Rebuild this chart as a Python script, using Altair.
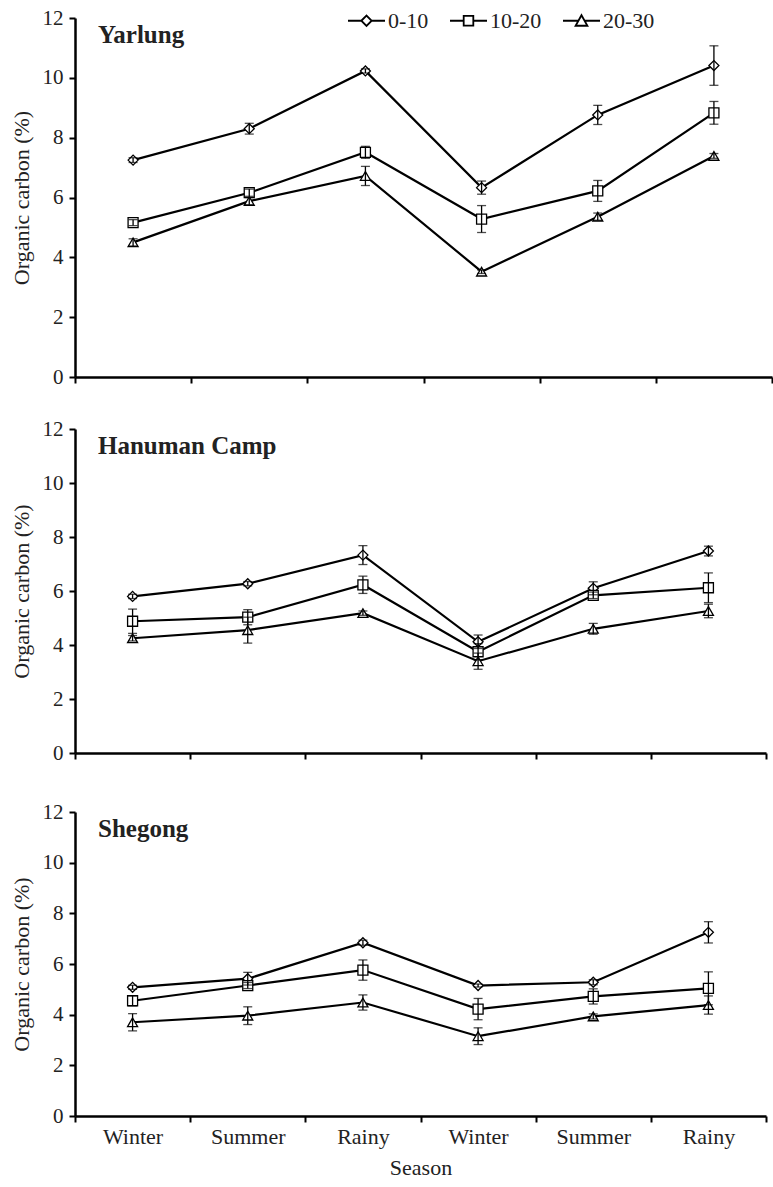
import altair as alt
import pandas as pd

seasons = ["Winter", "Summer", "Rainy", "Winter", "Summer", "Rainy"]
depths = ["0-10", "10-20", "20-30"]
sites = ["Yarlung", "Hanuman Camp", "Shegong"]

# mean organic carbon (%) per depth, six seasons
yarlung_0_10 = [7.25, 8.30, 10.23, 6.33, 8.76, 10.41]
yarlung_10_20 = [5.16, 6.16, 7.51, 5.28, 6.22, 8.83]
yarlung_20_30 = [4.50, 5.88, 6.72, 3.52, 5.36, 7.39]
yarlung_err_0_10 = [0.08, 0.18, 0.07, 0.22, 0.32, 0.66]
yarlung_err_10_20 = [0.10, 0.12, 0.20, 0.45, 0.35, 0.38]
yarlung_err_20_30 = [0.12, 0.12, 0.32, 0.06, 0.12, 0.08]

hanuman_0_10 = [5.80, 6.27, 7.33, 4.12, 6.10, 7.48]
hanuman_10_20 = [4.88, 5.03, 6.23, 3.75, 5.84, 6.12]
hanuman_20_30 = [4.25, 4.55, 5.18, 3.40, 4.60, 5.26]
hanuman_err_0_10 = [0.08, 0.08, 0.35, 0.25, 0.24, 0.18]
hanuman_err_10_20 = [0.45, 0.28, 0.32, 0.30, 0.12, 0.55]
hanuman_err_20_30 = [0.10, 0.48, 0.08, 0.30, 0.20, 0.25]

shegong_0_10 = [5.08, 5.42, 6.84, 5.15, 5.28, 7.25]
shegong_10_20 = [4.55, 5.15, 5.76, 4.22, 4.72, 5.04]
shegong_20_30 = [3.70, 3.96, 4.48, 3.15, 3.93, 4.38]
shegong_err_0_10 = [0.08, 0.25, 0.10, 0.06, 0.10, 0.42]
shegong_err_10_20 = [0.20, 0.12, 0.40, 0.42, 0.30, 0.65]
shegong_err_20_30 = [0.34, 0.35, 0.30, 0.33, 0.10, 0.36]

y_ticks = [0, 2, 4, 6, 8, 10, 12]

site_data = {
    "Yarlung": ([yarlung_0_10, yarlung_10_20, yarlung_20_30],
                [yarlung_err_0_10, yarlung_err_10_20, yarlung_err_20_30]),
    "Hanuman Camp": ([hanuman_0_10, hanuman_10_20, hanuman_20_30],
                     [hanuman_err_0_10, hanuman_err_10_20, hanuman_err_20_30]),
    "Shegong": ([shegong_0_10, shegong_10_20, shegong_20_30],
                [shegong_err_0_10, shegong_err_10_20, shegong_err_20_30]),
}

rows = []
for site in sites:
    means, errs = site_data[site]
    for d, m, e in zip(depths, means, errs):
        for i, (v, er) in enumerate(zip(m, e)):
            rows.append({"site": site, "depth": d, "pos": i + 0.5,
                         "value": v, "lo": v - er, "hi": v + er})
df = pd.DataFrame(rows)

shapes = {"0-10": "diamond", "10-20": "square", "20-30": "triangle-up"}
legend_paths = [
    "M-1,0L-0.28,0M0.28,0L1,0M-0.28,0L0,-0.28L0.28,0L0,0.28Z",
    "M-1,0L-0.26,0M0.26,0L1,0M-0.26,-0.26L0.26,-0.26L0.26,0.26L-0.26,0.26Z",
    "M-1,0L-0.17,0M0.17,0L1,0M0,-0.3L0.32,0.27L-0.32,0.27Z",
]

label_expr = "[" + ",".join("'%s'" % s for s in seasons) + ",''][datum.value]"

FONT = "Liberation Serif"


def panel(site, width, height, bottom, legend):
    d = df[df.site == site]
    base = alt.Chart(d)
    xaxis = alt.Axis(values=list(range(7)), labelExpr=label_expr,
                     labelOffset=width / 12.0, labelFlush=False,
                     labels=bottom, labelFontSize=22, labelPadding=4,
                     title="Season" if bottom else None, titlePadding=10)
    x = alt.X("pos:Q", scale=alt.Scale(domain=[0, 6], nice=False, zero=False), axis=xaxis)
    y = alt.Y("value:Q", scale=alt.Scale(domain=[0, 12], nice=False),
              axis=alt.Axis(values=y_ticks, title="Organic carbon (%)",
                            labelFontSize=21, titlePadding=9, labelPadding=6))
    lines = base.mark_line(color="black", strokeWidth=2.2).encode(x=x, y=y, detail="depth:N")
    layers = [lines]
    for dep in depths:
        layers.append(
            base.transform_filter(alt.datum.depth == dep)
            .mark_point(shape=shapes[dep], size=100, filled=True, fill="white",
                        stroke="black", strokeWidth=1.3, opacity=1)
            .encode(x="pos:Q", y="value:Q")
        )
    layers.append(base.mark_rule(color="black", strokeWidth=1.3).encode(x="pos:Q", y="lo:Q", y2="hi:Q"))
    layers.append(base.mark_tick(orient="horizontal", size=9, thickness=1.3, color="black")
                  .encode(x="pos:Q", y="lo:Q"))
    layers.append(base.mark_tick(orient="horizontal", size=9, thickness=1.3, color="black")
                  .encode(x="pos:Q", y="hi:Q"))
    title = alt.Chart(pd.DataFrame({"label": [site]})).mark_text(
        align="left", baseline="middle", font=FONT, fontSize=25, fontWeight="bold", color="#222"
    ).encode(x=alt.value(23), y=alt.value(17), text="label:N")
    layers.append(title)
    if legend:
        # legend carrier: no rows drawn, legend built from the explicit shape domain
        carrier = base.transform_filter(alt.datum.value < -100).mark_point(
            filled=False, color="black", strokeWidth=1.8, opacity=1).encode(
            x="pos:Q", y="value:Q",
            shape=alt.Shape("depth:N", scale=alt.Scale(domain=depths, range=legend_paths),
                            legend=alt.Legend(orient="none", legendX=272, legendY=-17,
                                              direction="horizontal", title=None,
                                              labelFont=FONT, labelFontSize=22,
                                              labelColor="#222", symbolSize=1369,
                                              symbolStrokeWidth=1.8,
                                              symbolStrokeColor="black", columnPadding=17,
                                              labelOffset=2, padding=0)))
        layers.append(carrier)
    return alt.layer(*layers).properties(width=width, height=height)


top = panel("Yarlung", 697, 359, False, True)
mid = panel("Hanuman Camp", 691, 324, False, False)
bot = panel("Shegong", 691, 304, True, False)

chart = alt.vconcat(alt.vconcat(top, mid, spacing=31), bot, spacing=38).properties(
    padding={"left": 10, "top": 1, "right": 0, "bottom": 5}, background="white"
).configure_axis(
    grid=False, domainColor="black", domainWidth=2.5, tickColor="black", tickWidth=2,
    tickSize=6, labelFont=FONT, labelColor="#222", titleFont=FONT, titleFontSize=22,
    titleFontWeight="normal", titleColor="#222"
).configure_view(strokeWidth=0)

chart.save("out.html", embed_options={"renderer": "svg", "actions": False})
